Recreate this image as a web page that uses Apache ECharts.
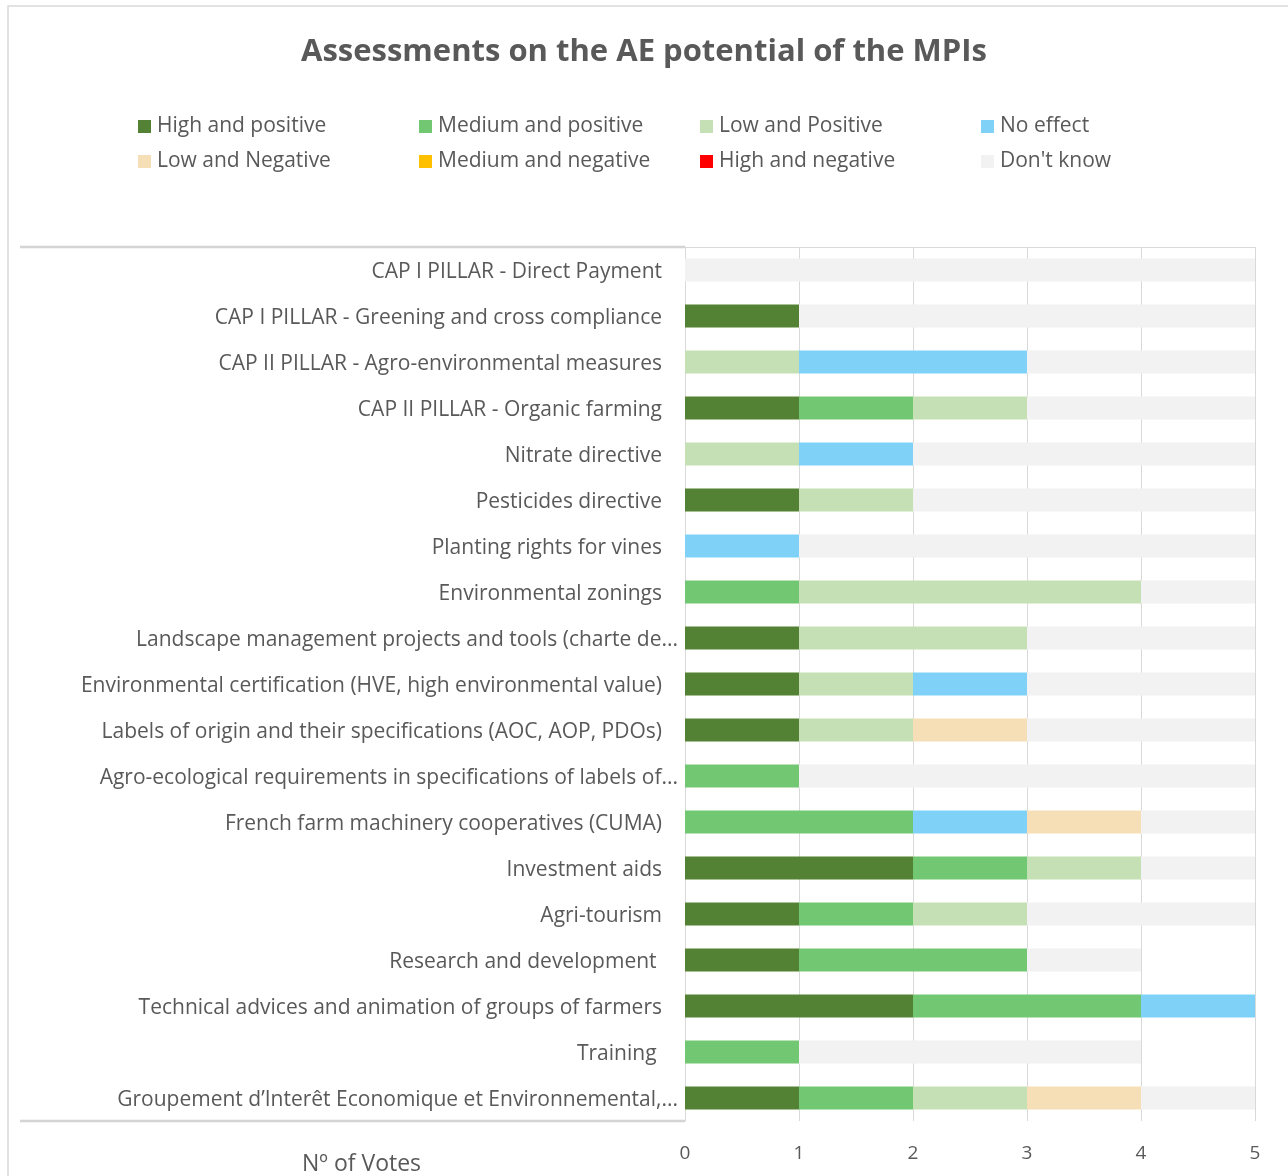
<!DOCTYPE html>
<html>
<head>
<meta charset="utf-8">
<script src="https://cdn.jsdelivr.net/npm/echarts@6/dist/echarts.min.js"></script>
<style>
  html, body { margin: 0; padding: 0; background: #fff; }
  #chart { width: 1288px; height: 1176px; }
</style>
</head>
<body>
<div id="chart"></div>
<script>
// categories, top to bottom
const categories = [
  'CAP I PILLAR - Direct Payment',
  'CAP I PILLAR - Greening and cross compliance',
  'CAP II PILLAR - Agro-environmental measures',
  'CAP II PILLAR - Organic farming',
  'Nitrate directive',
  'Pesticides directive',
  'Planting rights for vines',
  'Environmental zonings',
  'Landscape management projects and tools (charte de...',
  'Environmental certification (HVE, high environmental value)',
  'Labels of origin and their specifications (AOC, AOP, PDOs)',
  'Agro-ecological requirements in specifications of labels of...',
  'French farm machinery cooperatives (CUMA)',
  'Investment aids',
  'Agri-tourism',
  'Research and development ',
  'Technical advices and animation of groups of farmers',
  'Training ',
  'Groupement d\u2019Interêt Economique et Environnemental,...'
];

// votes per series, same order as categories
const highPositive   = [0, 1, 0, 1, 0, 1, 0, 0, 1, 1, 1, 0, 0, 2, 1, 1, 2, 0, 1];
const mediumPositive = [0, 0, 0, 1, 0, 0, 0, 1, 0, 0, 0, 1, 2, 1, 1, 2, 2, 1, 1];
const lowPositive    = [0, 0, 1, 1, 1, 1, 0, 3, 2, 1, 1, 0, 0, 1, 1, 0, 0, 0, 1];
const noEffect       = [0, 0, 2, 0, 1, 0, 1, 0, 0, 1, 0, 0, 1, 0, 0, 0, 1, 0, 0];
const lowNegative    = [0, 0, 0, 0, 0, 0, 0, 0, 0, 0, 1, 0, 1, 0, 0, 0, 0, 0, 1];
const mediumNegative = [0, 0, 0, 0, 0, 0, 0, 0, 0, 0, 0, 0, 0, 0, 0, 0, 0, 0, 0];
const highNegative   = [0, 0, 0, 0, 0, 0, 0, 0, 0, 0, 0, 0, 0, 0, 0, 0, 0, 0, 0];
const dontKnow       = [5, 4, 2, 2, 3, 3, 4, 1, 2, 2, 2, 4, 1, 1, 2, 1, 0, 3, 1];

const seriesNames = [
  'High and positive', 'Medium and positive', 'Low and Positive', 'No effect',
  'Low and Negative', 'Medium and negative', 'High and negative', "Don't know"
];
const seriesData = [
  highPositive, mediumPositive, lowPositive, noEffect,
  lowNegative, mediumNegative, highNegative, dontKnow
];
const seriesColors = [
  '#548235', '#72c773', '#c5e0b4', '#7fd1f8',
  '#f6dfb6', '#ffc000', '#ff0000', '#f2f2f2'
];
const xTicks = [0, 1, 2, 3, 4, 5];

const FONT = '"Open Sans", "Noto Sans", sans-serif';
const TXT = '#595959';

const chart = echarts.init(document.getElementById('chart'), null, { renderer: 'canvas' });

chart.setOption({
  backgroundColor: '#fff',
  animation: false,
  title: {
    text: 'Assessments on the AE potential of the MPIs',
    left: 'center',
    top: 32,
    textStyle: { fontFamily: FONT, fontSize: 31, fontWeight: 'bold', color: TXT }
  },
  legend: {
    left: 138,
    top: 114,
    padding: 0,
    width: 1130,
    itemWidth: 13,
    itemHeight: 13,
    itemGap: 10,
    icon: 'rect',
    data: seriesNames,
    textStyle: {
      fontFamily: FONT, fontSize: 21, color: TXT,
      width: 252, lineHeight: 25, padding: [0, 0, 0, 1]
    }
  },
  grid: { left: 685, right: 33, top: 247, bottom: 55, containLabel: false },
  xAxis: {
    type: 'value',
    min: xTicks[0],
    max: xTicks[xTicks.length - 1],
    interval: 1,
    axisLine: { show: false },
    axisTick: { show: false },
    splitLine: { show: true, lineStyle: { color: '#d9d9d9', width: 1 } },
    axisLabel: { fontFamily: FONT, fontSize: 19, color: TXT, margin: 23 }
  },
  yAxis: {
    type: 'category',
    inverse: true,
    data: categories,
    axisTick: { show: false },
    axisLine: { show: true, lineStyle: { color: '#d9d9d9', width: 1 } },
    axisLabel: {
      margin: 7,
      formatter: function (v) {
        return v.endsWith('...') ? '{b|' + v + '}' : '{a|' + v + '}';
      },
      rich: {
        a: { fontFamily: FONT, fontSize: 21, color: TXT, padding: [4, 16, 0, 0] },
        b: { fontFamily: FONT, fontSize: 21, color: TXT, padding: [4, 0, 0, 0] }
      }
    }
  },
  series: seriesNames.map((name, i) => ({
    name: name,
    type: 'bar',
    stack: 'votes',
    barWidth: '50%',
    itemStyle: { color: seriesColors[i] },
    data: seriesData[i]
  })),
  graphic: [
    // outer chart frame
    { type: 'rect', shape: { x: 8, y: 6, width: 1290, height: 1180 }, style: { fill: 'none', stroke: '#d9d9d9', lineWidth: 1.5 }, silent: true },
    // table-like rules around the label column
    { type: 'line', shape: { x1: 20, y1: 247, x2: 685, y2: 247 }, style: { stroke: '#d4d4d4', lineWidth: 2.5 }, silent: true },
    { type: 'line', shape: { x1: 685, y1: 247.5, x2: 1255, y2: 247.5 }, style: { stroke: '#d9d9d9', lineWidth: 1 }, silent: true },
    { type: 'line', shape: { x1: 20, y1: 1121, x2: 685, y2: 1121 }, style: { stroke: '#d4d4d4', lineWidth: 2.5 }, silent: true },
    {
      type: 'text', left: 302, top: 1153,
      style: { text: 'Nº of Votes', font: '23px ' + FONT, fill: TXT }
    }
  ]
});
</script>
</body>
</html>
